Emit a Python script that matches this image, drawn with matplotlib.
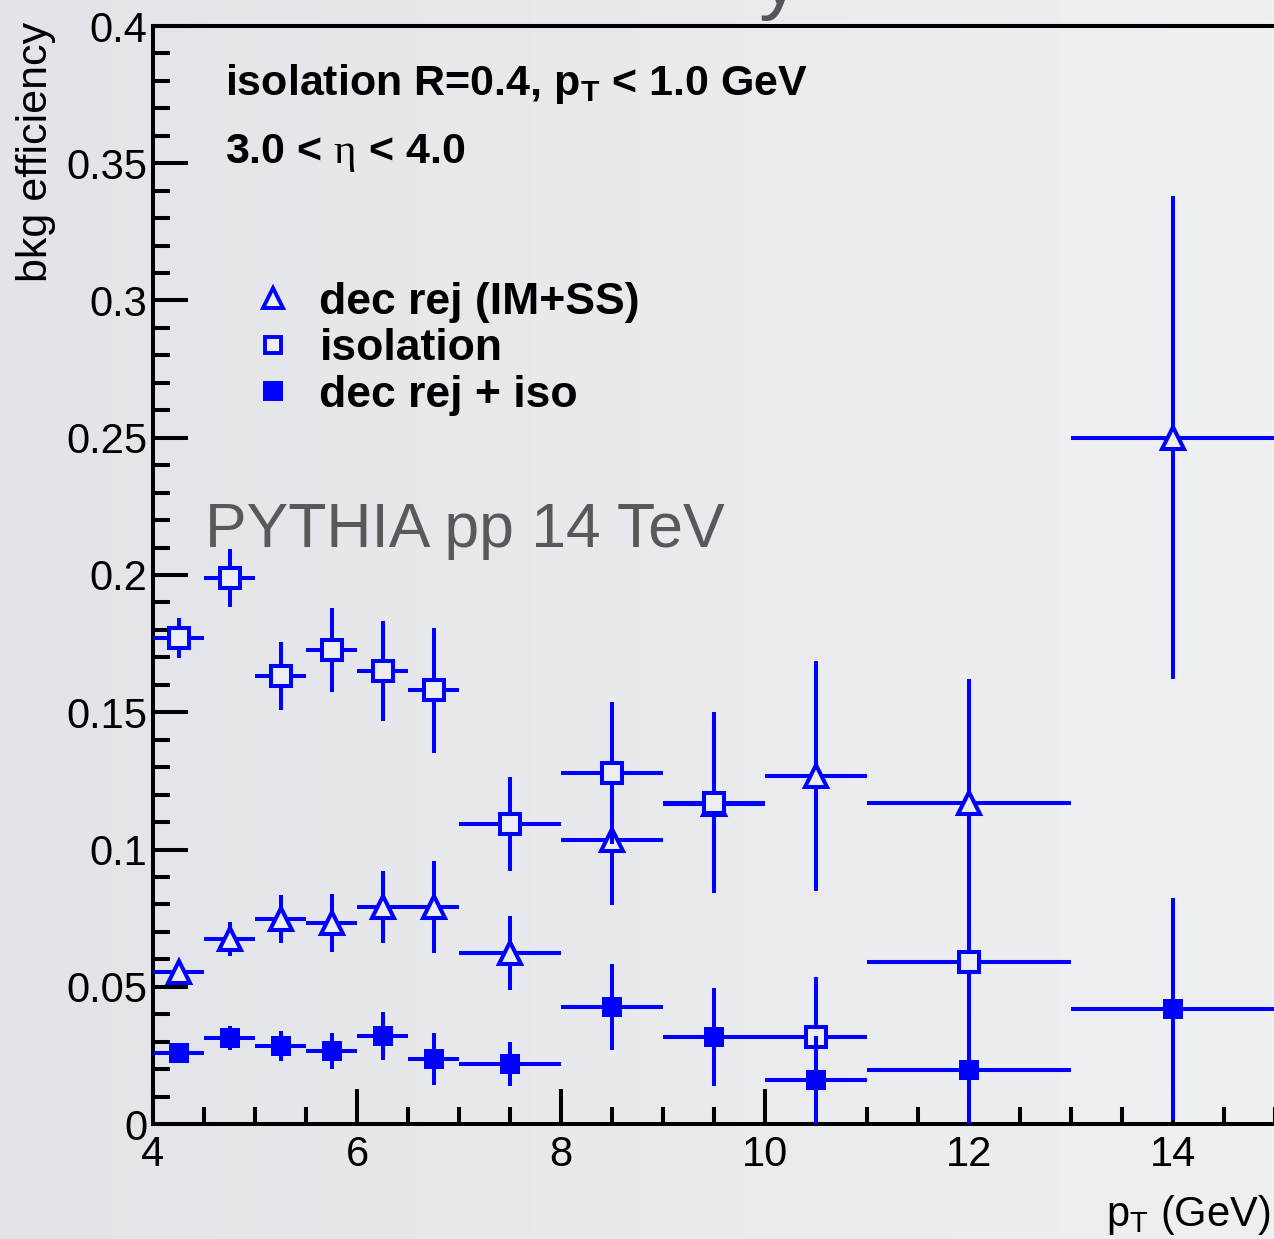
import numpy as np
import matplotlib
matplotlib.use("Agg")
import matplotlib.pyplot as plt
from matplotlib.lines import Line2D
from matplotlib.ticker import MultipleLocator
from matplotlib.colors import LinearSegmentedColormap

plt.rcParams['font.family'] = ['Liberation Sans', 'DejaVu Sans']
plt.rcParams['mathtext.fontset'] = 'custom'
plt.rcParams['mathtext.rm'] = 'Liberation Serif'

# bin centres and half widths (GeV)
pt = [4.25, 4.75, 5.25, 5.75, 6.25, 6.75, 7.5, 8.5, 9.5, 10.5, 12.0, 14.0]
pt_err = [0.25, 0.25, 0.25, 0.25, 0.25, 0.25, 0.5, 0.5, 0.5, 0.5, 1.0, 1.0]

# dec rej (IM+SS)
decrej = [0.0552, 0.0674, 0.0747, 0.0732, 0.0790, 0.0790, 0.0623, 0.1035, 0.1165, 0.1268, 0.1170, 0.2500]
decrej_err = [0.0025, 0.0063, 0.0089, 0.0106, 0.0130, 0.0168, 0.0134, 0.0237, 0.0300, 0.0420, 0.0450, 0.0880]

# isolation
iso = [0.1770, 0.1989, 0.1632, 0.1727, 0.1650, 0.1580, 0.1093, 0.1279, 0.1170, 0.0317, 0.0590, np.nan]
iso_err = [0.0074, 0.0106, 0.0125, 0.0153, 0.0183, 0.0227, 0.0172, 0.0260, 0.0330, 0.0220, 0.0325, np.nan]

# dec rej + iso
comb = [0.0259, 0.0313, 0.0284, 0.0266, 0.0320, 0.0237, 0.0219, 0.0426, 0.0317, 0.0160, 0.0197, 0.0420]
comb_err = [0.0022, 0.0044, 0.0056, 0.0065, 0.0087, 0.0094, 0.0080, 0.0157, 0.0180, 0.0160, 0.0197, 0.0404]

ytick_labels = ['0', '0.05', '0.1', '0.15', '0.2', '0.25', '0.3', '0.35', '0.4']

blue = '#0000ff'
bg_in = '#eceef1'

fig = plt.figure(figsize=(12.74, 12.39), dpi=100)

# slide background
bg = fig.add_axes([0, 0, 1, 1], zorder=-10)
grad = np.linspace(0, 1, 256).reshape(1, -1)
cmap = LinearSegmentedColormap.from_list('bg', ['#e3e4e9', '#eff0f2'])
bg.imshow(grad, cmap=cmap, aspect='auto', extent=[0, 1, 0, 1])
bg.axis('off')

ax = fig.add_axes([153 / 1274, 1 - 1124 / 1239, 1122 / 1274, 1098 / 1239])
ax.patch.set_alpha(0)

ax.errorbar(pt, decrej, xerr=pt_err, yerr=decrej_err, fmt='^', color=blue,
            ms=16, mew=2.9, mfc=bg_in, mec=blue, elinewidth=2.9, capsize=0, zorder=3)
ax.errorbar(pt, iso, xerr=pt_err, yerr=iso_err, fmt='s', color=blue,
            ms=14, mew=2.9, mfc=bg_in, mec=blue, elinewidth=2.9, capsize=0, zorder=4)
ax.errorbar(pt, comb, xerr=pt_err, yerr=comb_err, fmt='s', color=blue,
            ms=14, mew=0, mfc=blue, elinewidth=2.9, capsize=0, zorder=5)

ax.set_xlim(4, 15)
ax.set_ylim(0, 0.4)
ax.xaxis.set_major_locator(MultipleLocator(2))
ax.xaxis.set_minor_locator(MultipleLocator(0.5))
ax.yaxis.set_minor_locator(MultipleLocator(0.01))
ax.set_yticks(np.arange(0, 0.401, 0.05))
ax.set_yticklabels(ytick_labels)
ax.tick_params(which='both', direction='in', width=2.9, labelsize=30,
               top=False, right=False)
ax.tick_params(which='major', length=25)
ax.tick_params(which='minor', length=12.5)
ax.tick_params(axis='x', pad=8)
ax.tick_params(axis='y', pad=4)
for s in ['left', 'bottom', 'top']:
    ax.spines[s].set_linewidth(2.9)
ax.spines['right'].set_visible(False)

fig.text(1270 / 1274, 1 - 1226 / 1239, r'p$_{\mathregular{T}}$ (GeV)', fontsize=30,
         ha='right', va='baseline')
fig.text(36 / 1274, 1 - 22 / 1239, 'bkg efficiency', fontsize=31, rotation=90,
         ha='center', va='top')

ax.text(225 / 1274, 1 - 95 / 1239, r'isolation R=0.4, p$_{\mathregular{T}}$ < 1.0 GeV',
        transform=fig.transFigure, weight='bold', fontsize=31, va='baseline')
ax.text(225 / 1274, 1 - 163 / 1239, r'3.0 < $\mathrm{\eta}$ < 4.0',
        transform=fig.transFigure, weight='bold', fontsize=31, va='baseline')

fig.text(205 / 1274, 1 - 547 / 1239, 'PYTHIA pp 14 TeV', fontsize=45, color='#595959',
         va='baseline')

# piece of the slide title cut off at the top
fig.text(780 / 1274, 1 - 4 / 1239, 'y', fontsize=60, color='#555555',
         ha='center', va='baseline')

handles = [
    Line2D([], [], ls='none', marker='^', ms=15, mew=2.8, mfc=bg_in, mec=blue),
    Line2D([], [], ls='none', marker='s', ms=12, mew=2.8, mfc=bg_in, mec=blue),
    Line2D([], [], ls='none', marker='s', ms=14, mew=0, mfc=blue),
]
labels = ['dec rej (IM+SS)', 'isolation', 'dec rej + iso']
ax.legend(handles, labels, loc='upper left', bbox_to_anchor=(255 / 1274, 1 - 282 / 1239),
          bbox_transform=fig.transFigure, frameon=False, borderpad=0, borderaxespad=0,
          handlelength=0.8, handletextpad=0.65, labelspacing=0.12,
          prop={'weight': 'bold', 'size': 32})

fig.savefig('out.png', dpi=100)
